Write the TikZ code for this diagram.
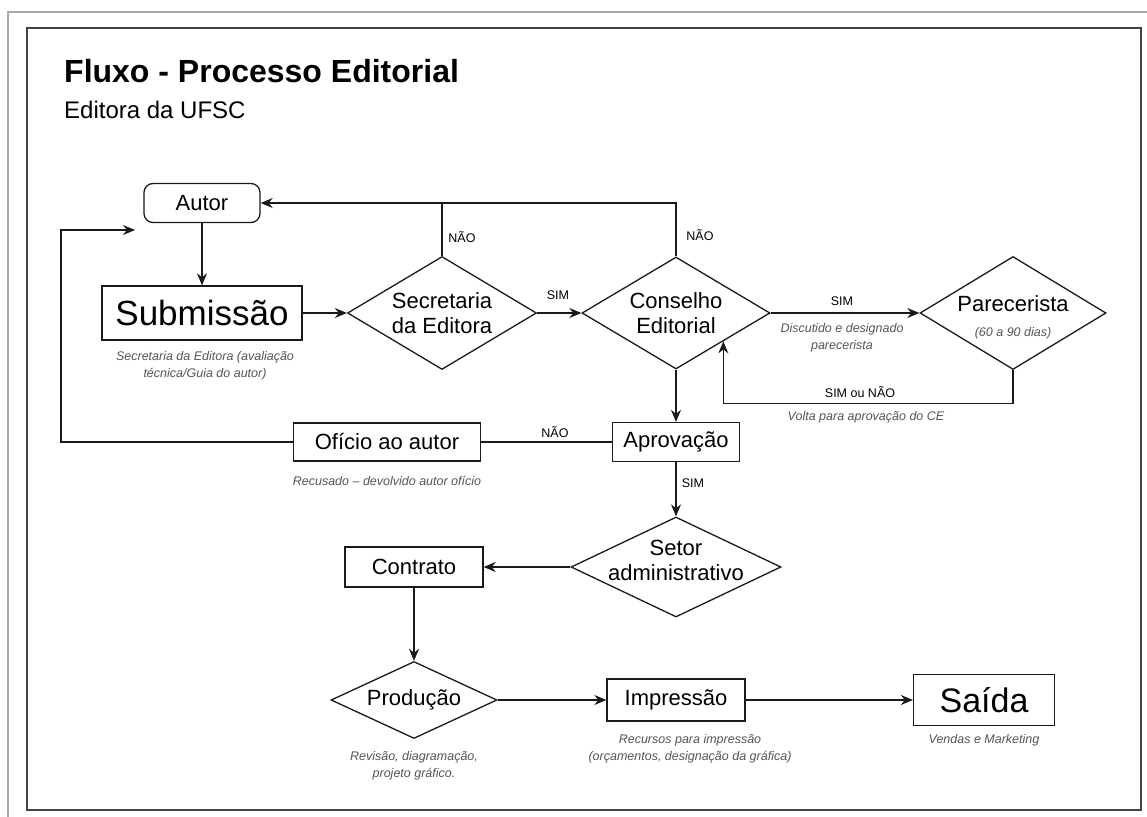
\documentclass[tikz,border=0pt]{standalone}
\usepackage{fontspec}
\setmainfont{Liberation Sans}
\usetikzlibrary{shapes.geometric,arrows.meta}

\definecolor{ink}{HTML}{1A1A1A}
\definecolor{capgray}{HTML}{555555}
\definecolor{framegray}{HTML}{444444}
\definecolor{outergray}{HTML}{AAAAAA}

\newcommand{\nodefont}{\fontsize{22}{25}\selectfont}
\newcommand{\bigfont}{\fontsize{35}{40}\selectfont}
\newcommand{\capfont}{\fontsize{12.5}{17.5}\selectfont\itshape\color{capgray}}
\newcommand{\tagfont}{\fontsize{12.5}{15}\selectfont}

\tikzset{
  box/.style={draw=ink, line width=1.3pt, fill=white, inner sep=0pt, font=\nodefont, text=black},
  dia/.style={draw=ink, line width=1.3pt, fill=white, shape=diamond, inner sep=0pt},
  dlabel/.style={align=center, font=\nodefont, text=black, inner sep=0pt},
  caption/.style={align=center, font=\capfont, inner sep=0pt},
  tag/.style={font=\tagfont, text=black, inner sep=0pt},
  link/.style={draw=ink, line width=1.3pt},
  arr/.style={link, -{Stealth[length=12pt,width=10pt]}},
}

\begin{document}
\begin{tikzpicture}[x=1pt,y=-1pt]
  \useasboundingbox (0,0) rectangle (1147,816);
  \fill[white] (0,0) rectangle (1147,816);

  % page frames
  \draw[outergray, line width=1.5pt] (8,830) -- (8,12) -- (1160,12);
  \draw[framegray, line width=2pt] (27,28) rectangle (1141,810);

  % heading
  \node[anchor=base west, inner sep=0pt, font=\fontsize{32}{36}\selectfont\bfseries] (title) at (64,82) {Fluxo - Processo Editorial};
  \node[anchor=base west, inner sep=0pt, font=\fontsize{24}{28}\selectfont] (subtitle) at (64,118) {Editora da UFSC};

  % process nodes
  \node[box, rounded corners=9pt, minimum width=116, minimum height=39] (au) at (202,203) {Autor};
  \node[box, minimum width=200, minimum height=54, font=\bigfont] (sub) at (202,313) {Submissão};
  \node[dia, minimum width=189, minimum height=113,
        label={[dlabel]center:Secretaria\\da Editora}] (se) at (442,313) {};
  \node[dia, minimum width=188, minimum height=112,
        label={[dlabel]center:Conselho\\Editorial}] (ce) at (676,313) {};
  \node[dia, minimum width=186, minimum height=113,
        label={[dlabel, yshift=-4pt]center:Parecerista\\{\capfont (60 a 90 dias)}}] (pa) at (1013,313) {};
  \node[box, minimum width=127, minimum height=39] (ap) at (676,442) {Aprovação};
  \node[box, minimum width=187, minimum height=38] (of) at (387,442) {Ofício ao autor};
  \node[dia, minimum width=210, minimum height=100,
        label={[dlabel, yshift=7pt]center:Setor\\administrativo}] (st) at (676,567) {};
  \node[box, minimum width=138, minimum height=40] (co) at (414,567) {Contrato};
  \node[dia, minimum width=166, minimum height=77,
        label={[dlabel]center:Produção}] (pr) at (414,700) {};
  \node[box, minimum width=138, minimum height=42] (im) at (676,700) {Impressão};
  \node[box, minimum width=141, minimum height=51, font=\fontsize{34}{38}\selectfont] (sa) at (984,700) {Saída};

  % notes under the steps
  \node[caption] (c-sub) at (205,366) {Secretaria da Editora (avaliação\\técnica/Guia do autor)};
  \node[caption] (c-ce) at (842,338) {Discutido e designado\\parecerista};
  \node[caption] (c-pa) at (866,417) {Volta para aprovação do CE};
  \node[caption] (c-of) at (387,481) {Recusado – devolvido autor ofício};
  \node[caption] (c-pr) at (414,766) {Revisão, diagramação,\\projeto gráfico.};
  \node[caption] (c-im) at (690,749) {Recursos para impressão\\(orçamentos, designação da gráfica)};
  \node[caption] (c-sa) at (984,740) {Vendas e Marketing};

  % decision tags
  \node[tag] (t1) at (462,237) {NÃO};
  \node[tag] (t2) at (700,235) {NÃO};
  \node[tag] (t3) at (558,295) {SIM};
  \node[tag] (t4) at (842,301) {SIM};
  \node[tag] (t5) at (860,392) {SIM ou NÃO};
  \node[tag] (t6) at (555,432) {NÃO};
  \node[tag] (t7) at (693,483) {SIM};

  % connectors
  \coordinate (rc) at (61,230);
  \coordinate (ret) at (135,230);

  \draw[arr] (au.south) -- (sub.north);
  \draw[arr] (sub.east) -- (se.west);
  \draw[arr] (se.east) -- (ce.west);
  \draw[arr] (ce.east) -- (pa.west);
  \draw[arr] (ce.north) |- (au.east);
  \draw[link] (se.north) -- (se.north |- au.east);
  \draw[arr] (pa.south) -- ++(0,33) -| (ce.south east);
  \draw[arr] (ce.south) -- (ap.north);
  \draw[link] (ap.west) -- (of.east);
  \draw[arr] (of.west) -| (rc) -- (ret);
  \draw[arr] (ap.south) -- (st.north);
  \draw[arr] (st.west) -- (co.east);
  \draw[arr] (co.south) -- (pr.north);
  \draw[arr] (pr.east) -- (im.west);
  \draw[arr] (im.east) -- (sa.west);
\end{tikzpicture}
\end{document}
